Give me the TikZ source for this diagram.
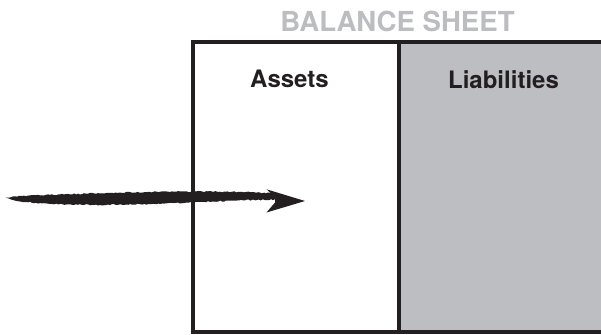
\documentclass[tikz,border=0pt]{standalone}
\usepackage{fontspec}
\setmainfont{TeX Gyre Heros}
\usetikzlibrary{positioning,decorations.pathmorphing}
\definecolor{inkblack}{RGB}{35,31,32}
\definecolor{sheetgray}{RGB}{189,190,194}
\definecolor{titlegray}{RGB}{188,189,192}
\tikzstyle{column} = [rectangle, draw=inkblack, line width=4.5pt, anchor=north west,
                      minimum height=290.2pt, inner sep=0pt, outer sep=0pt]
\tikzstyle{head} = [font=\bfseries\fontsize{24}{28}\selectfont, text=inkblack, inner sep=0pt]
\tikzstyle{title} = [font=\bfseries\fontsize{27.6}{30}\selectfont, text=titlegray, inner sep=0pt]
\tikzstyle{brush} = [fill=inkblack, decorate,
                     decoration={random steps, segment length=2pt, amplitude=0.6pt}]

\begin{document}
\begin{tikzpicture}[x=1pt, y=-1pt]
\useasboundingbox (0,0) rectangle (601,334);
\pgfmathsetseed{7}

\node [column, minimum width=206pt] (assets) at (193,41.8) {};
\node [column, fill=sheetgray, minimum width=209pt, right=0pt of assets] (liab) {};

\node [title, above=10pt of assets.north east, xshift=-1.5pt] (sheet) {BALANCE SHEET};
\node [head, below=28.2pt of assets.north, xshift=-6.5pt] (assetslabel) {Assets};
\node [head, below=28.2pt of liab.north] (liablabel) {Liabilities};

% brush stroke arrow
\coordinate (start) at (5,198);
\coordinate (tip) at (305,201);
\path [brush] (start) -- (20,196) -- (60,194.5) -- (120,192.5) -- (180,191.5)
      -- (240,191.8) -- (277,193.5) -- (277,199.5) -- (240,200.3) -- (200,202)
      -- (150,204) -- (100,205) -- (50,204) -- (20,201.5) -- cycle;
\fill [inkblack] (tip) -- (266.5,189.3) -- (275,197) -- (275,202.5)
      -- (266.5,212.5) -- cycle;

\end{tikzpicture}
\end{document}
